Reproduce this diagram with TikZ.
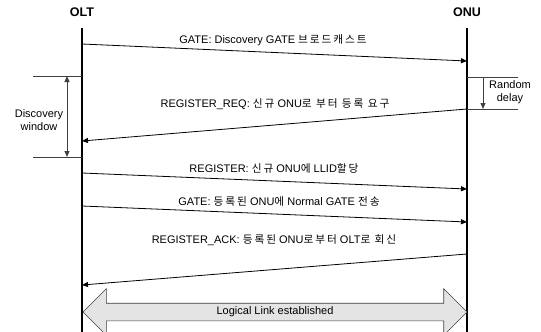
\documentclass[tikz,border=0pt]{standalone}
\usepackage{fontspec}
\setmainfont{Liberation Sans}
\newfontfamily\krfont{Noto Sans CJK KR}[LetterSpace=18,Scale=0.97]
\newcommand{\ko}[1]{{\krfont #1}}
\usepackage{tikz}
\usetikzlibrary{arrows.meta,positioning,calc,shapes.arrows}
\definecolor{LinkGray}{HTML}{E4E4E4}
\definecolor{EdgeGray}{HTML}{404040}

\begin{document}
\begin{tikzpicture}[x=1pt,y=-1pt,
  msg/.style={draw,line width=0.8pt,-{Triangle[length=6pt,width=5pt]}},
  lbl/.style={font=\fontsize{11}{12.5}\selectfont,inner sep=1pt},
  life/.style={line width=1.3pt},
  tick/.style={draw=EdgeGray,line width=0.8pt}]
\useasboundingbox (0,0) rectangle (541,332);
\node[font=\bfseries\fontsize{12.5}{14}\selectfont] (olt) at (82,12) {OLT};
\node[font=\bfseries\fontsize{12.5}{14}\selectfont] (onu) at (467,12) {ONU};
\coordinate (olttop) at (82,28);
\coordinate (oltend) at (82,332);
\coordinate (onutop) at (467,28);
\coordinate (onuend) at (467,332);
\draw[life] (olttop) -- (oltend);
\draw[life] (onutop) -- (onuend);

\coordinate (gate1a) at (82,44);
\coordinate (gate1b) at (467,61);
\coordinate (reqa) at (467,109);
\coordinate (reqb) at (82,141);
\coordinate (rega) at (82,173);
\coordinate (regb) at (467,189);
\coordinate (gate2a) at (82,206);
\coordinate (gate2b) at (467,222);
\coordinate (acka) at (467,254);
\coordinate (ackb) at (82,285);
\draw[msg] (gate1a) -- (gate1b);
\draw[msg] (reqa) -- (reqb);
\draw[msg] (rega) -- (regb);
\draw[msg] (gate2a) -- (gate2b);
\draw[msg] (acka) -- (ackb);
\node[lbl] (gate1lbl) at (273,40.5) {GATE: Discovery GATE \ko{브로드캐스트}};
\node[lbl] (reqlbl) at (275,104) {REGISTER\_REQ: \ko{신규} ONU\ko{로 부터 등록 요구}};
\node[lbl] (reglbl) at (274,168) {REGISTER: \ko{신규} ONU\ko{에} LLID\ko{할당}};
\node[lbl] (gate2lbl) at (279,202) {GATE: \ko{등록된} ONU\ko{에} Normal GATE \ko{전송}};
\node[lbl] (acklbl) at (274,240) {REGISTER\_ACK: \ko{등록된} ONU\ko{로부터} OLT\ko{로 회신}};

\coordinate (winl1) at (33,76);
\coordinate (winr1) at (82,76);
\coordinate (winl2) at (33,157);
\coordinate (winr2) at (82,157);
\draw[tick] (winl1) -- (winr1);
\draw[tick] (winl2) -- (winr2);
\draw[tick,{Triangle[length=6pt,width=5pt]}-{Triangle[length=6pt,width=5pt]}] (67,76) -- (67,157);
\node[lbl,align=center] (winlbl) at (39,120) {Discovery\\window};

\coordinate (dell1) at (467,77);
\coordinate (delr1) at (518,77);
\coordinate (dell2) at (467,109);
\coordinate (delr2) at (518,109);
\draw[tick] (dell1) -- (delr1);
\draw[tick] (dell2) -- (delr2);
\draw[tick,-{Triangle[length=6pt,width=5pt]}] (483,77) -- (483,109);
\node[lbl,align=center] (dellbl) at (510,92) {Random\\delay};

\node[double arrow,draw=EdgeGray,fill=LinkGray,line width=0.6pt,
  minimum height=384pt,double arrow head extend=14.5pt,
  inner xsep=0pt,inner ysep=4pt,text height=7pt,text depth=2pt,
  font=\fontsize{11}{12.5}\selectfont] (link) at (275,312) {Logical Link established};
\end{tikzpicture}
\end{document}
